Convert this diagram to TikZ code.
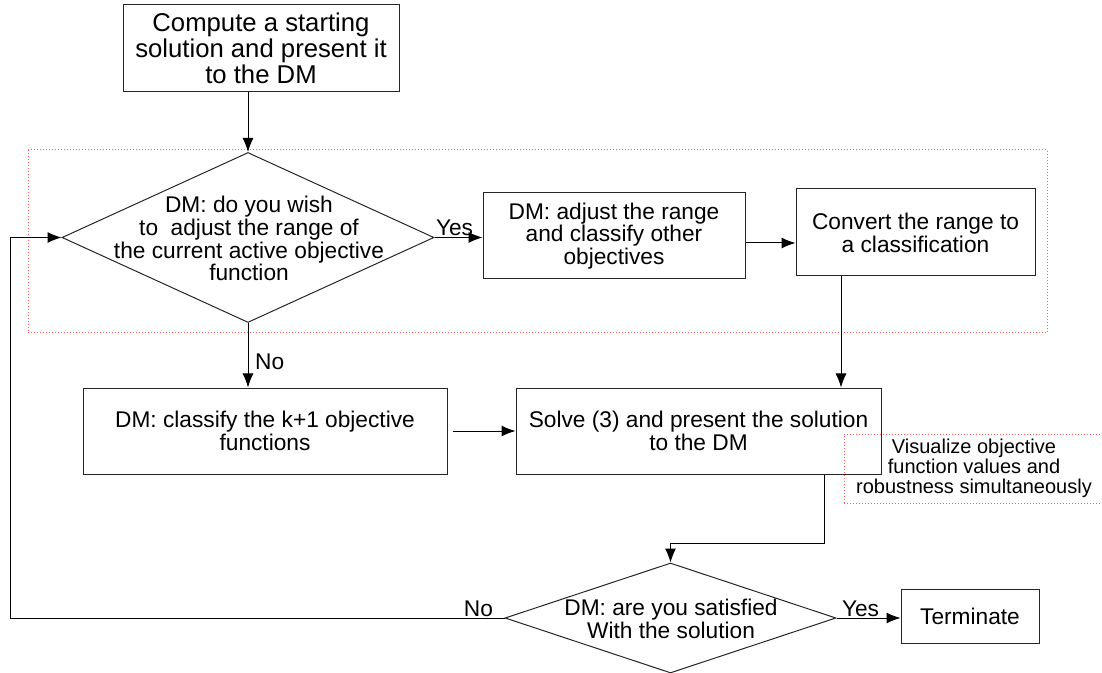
\documentclass[tikz,border=0pt]{standalone}
\usepackage{fontspec}
\setmainfont{Liberation Sans}
\usetikzlibrary{shapes.geometric}
\usetikzlibrary{arrows.meta}

\tikzset{
	txt/.style={font=\fontsize{11.35}{11.4}\selectfont, align=center},
	procbox/.style={draw=black!85, rectangle, line width=0.5pt, inner sep=0pt, txt},
	decision/.style={draw=black!85, diamond, line width=0.5pt, inner sep=0pt},
	flow/.style={-{Latex[length=7pt,width=5.5pt]}, line width=0.5pt},
	group/.style={draw=red!65, densely dotted, line width=0.5pt}
}

\begin{document}
\begin{tikzpicture}[x=0.5pt, y=-0.5pt]
			\useasboundingbox (0,0) rectangle (1102,673);
			% range adjustment part
			\draw[group] (28,150) rectangle (1047,333);
			% steps
			\node[procbox, minimum width=138pt, minimum height=43.5pt, font=\fontsize{12.85}{13}\selectfont] (start) at (261,48.5) {Compute a starting\\ solution and present it\\ to the DM};
			\node[decision, minimum width=186pt, minimum height=85pt] (askrange) at (248,237.5) {};
			\node[txt] (askrangetext) at (249,238.5) {DM: do you wish\\ to~ adjust the range of\\ the current active objective\\ function};
			\node[procbox, minimum width=131pt, minimum height=43pt] (adjust) at (614,236) {DM: adjust the range\\ and classify other\\ objectives};
			\node[procbox, minimum width=119.5pt, minimum height=43.5pt] (convert) at (915.5,232.5) {Convert the range to\\ a classification};
			\node[procbox, minimum width=182pt, minimum height=43pt] (classify) at (265,431) {DM: classify the k+1 objective\\ functions};
			\node[procbox, minimum width=182.5pt, minimum height=43pt] (solve) at (698.5,431) {Solve (3) and present the solution\\ to the DM};
			\node[group, rectangle, minimum width=130pt, minimum height=34.5pt, inner sep=0pt, align=center, font=\fontsize{10}{10}\selectfont] (visual) at (974,468.5) {Visualize objective\\ function values and\\ robustness simultaneously};
			\node[decision, minimum width=165.5pt, minimum height=55pt] (satisfied) at (670.5,618) {};
			\node[txt] (satisfiedtext) at (671,619) {DM: are you satisfied\\ With the solution};
			\node[procbox, minimum width=69pt, minimum height=27pt] (terminate) at (970,616) {Terminate};
			\coordinate (bend) at (824,543);
			\coordinate (back) at (10,618);
			% connectors
			\draw[flow] (start.south -| askrange.north) -- (askrange.north);
			\draw[flow] (askrange.east) -- (askrange.east -| adjust.west) node[pos=0, anchor=south west, inner sep=0.5pt, txt] {Yes};
			\draw[flow] ([yshift=-3.5pt]adjust.east) -- ([yshift=-3.5pt]adjust.east -| convert.west);
			\draw[flow] ([xshift=-37.25pt]convert.south) -- ([xshift=-37.25pt]convert.south |- solve.north);
			\draw[flow] (askrange.south) -- (askrange.south |- classify.north) node[pos=0.6, right, txt] {No};
			\draw[flow] ([xshift=2.5pt]classify.east) -- (solve.west);
			\draw[flow] ([xshift=62.75pt]solve.south) -- (bend) -| (satisfied.north);
			\draw[flow] (satisfied.east) -- (satisfied.east -| terminate.west) node[pos=0, anchor=south west, inner sep=0.5pt, xshift=2pt, txt] {Yes};
			\draw[flow] (satisfied.west) node[anchor=south east, inner sep=0.5pt, xshift=-5pt, txt] {No} -- (back) |- (askrange.west);
		\end{tikzpicture}
\end{document}
